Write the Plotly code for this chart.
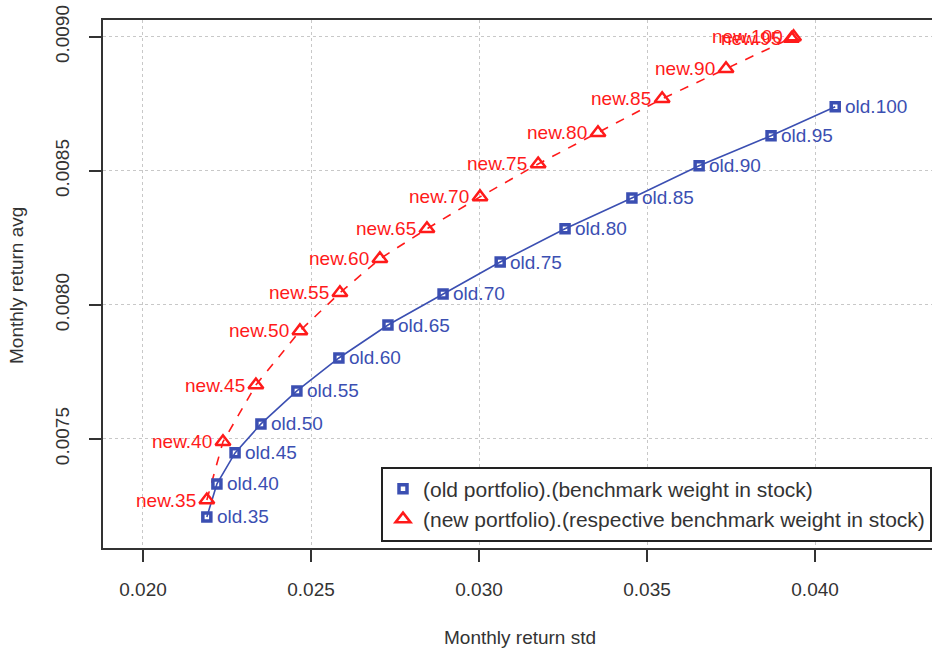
import plotly.graph_objects as go

# Benchmark weight in stock (%) for each portfolio on the frontier
weights = [35, 40, 45, 50, 55, 60, 65, 70, 75, 80, 85, 90, 95, 100]

# Old portfolio: monthly return std / avg
old_std = [0.02190, 0.02220, 0.02274, 0.02351, 0.02458, 0.02583, 0.02729,
           0.02893, 0.03063, 0.03256, 0.03455, 0.03655, 0.03869, 0.04060]
old_avg = [0.007209, 0.007332, 0.007448, 0.007556, 0.007679, 0.007802, 0.007925,
           0.008041, 0.008160, 0.008284, 0.008399, 0.008519, 0.008631, 0.008739]

# New portfolio: monthly return std / avg
new_std = [0.02190, 0.02238, 0.02336, 0.02467, 0.02586, 0.02705, 0.02845,
           0.03003, 0.03176, 0.03354, 0.03545, 0.03735, 0.03930, 0.03936]
new_avg = [0.007272, 0.007489, 0.007701, 0.007903, 0.008045, 0.008172, 0.008284,
           0.008403, 0.008526, 0.008642, 0.008769, 0.008881, 0.008994, 0.009000]

x_ticks = [0.020, 0.025, 0.030, 0.035, 0.040]
y_ticks = [0.0075, 0.0080, 0.0085, 0.0090]

old_labels = [f"old.{w}" for w in weights]
new_labels = [f"new.{w}" for w in weights]

BLUE = "#3b4fb2"
RED = "#ff1a1a"
INK = "#333333"
FONT = "Liberation Sans, Arial, sans-serif"
LABEL_SIZE = 19

fig = go.Figure()

# connecting lines
fig.add_trace(go.Scatter(x=old_std, y=old_avg, mode="lines",
                         line=dict(color=BLUE, width=1.6), showlegend=False,
                         hoverinfo="skip"))
fig.add_trace(go.Scatter(x=new_std, y=new_avg, mode="lines",
                         line=dict(color=RED, width=1.6, dash="dash"),
                         showlegend=False, hoverinfo="skip"))

# markers (legend entries)
fig.add_trace(go.Scatter(x=old_std, y=old_avg, mode="markers",
                         name="(old portfolio).(benchmark weight in stock)",
                         marker=dict(symbol="square-open", size=8,
                                     line=dict(color=BLUE, width=3.5), color=BLUE)))
fig.add_trace(go.Scatter(x=new_std, y=new_avg, mode="markers",
                         name="(new portfolio).(respective benchmark weight in stock)",
                         marker=dict(symbol="triangle-up-open", size=13,
                                     line=dict(color=RED, width=2.5), color=RED)))

# point labels: old to the right of each point, new to the left
annotations = []
for xs, ys, lab in zip(old_std, old_avg, old_labels):
    annotations.append(dict(x=xs, y=ys, xref="x", yref="y", text=lab,
                            showarrow=False, xanchor="left", yanchor="middle",
                            xshift=8,
                            font=dict(family=FONT, size=LABEL_SIZE, color=BLUE)))
for xs, ys, lab in zip(new_std, new_avg, new_labels):
    annotations.append(dict(x=xs, y=ys, xref="x", yref="y", text=lab,
                            showarrow=False, xanchor="right", yanchor="middle",
                            xshift=-9,
                            font=dict(family=FONT, size=LABEL_SIZE, color=RED)))

# axis titles
annotations += [
    dict(text="Monthly return std", xref="paper", yref="paper",
         x=0.503, y=-0.1686, xanchor="center", yanchor="middle",
         showarrow=False, font=dict(family=FONT, size=19, color=INK)),
    dict(text="Monthly return avg", xref="paper", yref="paper",
         x=-0.105, y=0.498, xanchor="center", yanchor="middle",
         textangle=-90, showarrow=False,
         font=dict(family=FONT, size=19, color=INK)),
]

axis_common = dict(
    showline=True, linecolor=INK, linewidth=2,
    ticks="outside", ticklen=12, tickwidth=2, tickcolor=INK,
    showgrid=True, gridcolor="#c8c8c8", gridwidth=1, griddash="dot",
    zeroline=False, automargin=False,
    tickfont=dict(family=FONT, size=19, color=INK),
)

fig.update_xaxes(range=[0.01881, 0.04348], tickvals=x_ticks, tickformat=".3f",
                 mirror=True, ticklabelstandoff=11, **axis_common)
fig.update_yaxes(range=[0.007093, 0.009063], tickvals=y_ticks, tickformat=".4f",
                 tickangle=-90, mirror=False, ticklabelstandoff=12, **axis_common)

fig.update_layout(
    width=932, height=651,
    margin=dict(l=103, r=0, t=20, b=103),
    plot_bgcolor="white", paper_bgcolor="white",
    font=dict(family=FONT, color=INK),
    legend=dict(x=1, xanchor="right", y=0.012, yanchor="bottom",
                bordercolor="#222222", borderwidth=2, bgcolor="white",
                font=dict(family=FONT, size=21, color=INK),
                tracegroupgap=0),
    annotations=annotations,
)

fig.write_html("out.html")
